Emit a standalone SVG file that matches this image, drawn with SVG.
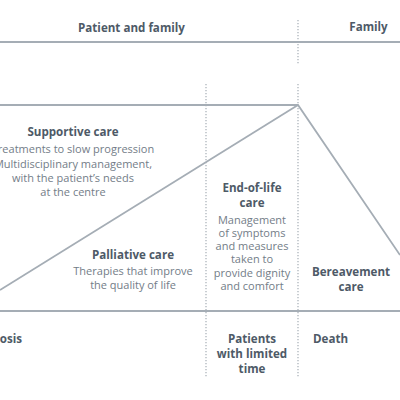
<svg xmlns="http://www.w3.org/2000/svg" width="400" height="400" viewBox="0 0 400 400">
<style>
.b{font-family:"Open Sans","Noto Sans","DejaVu Sans",sans-serif;font-weight:bold;font-size:11.6px;fill:#4e5a67;text-anchor:middle}
.r{font-family:"Open Sans","Noto Sans","DejaVu Sans",sans-serif;font-size:11px;fill:#737d88;text-anchor:middle}
.ln{stroke:#a5adb5;stroke-width:1.8;fill:none}
.dot{stroke:#a5adb5;stroke-width:1.2;stroke-dasharray:1.2 1.8;fill:none}
</style>
<rect width="400" height="400" fill="#ffffff"/>
<g id="connectors">
<line class="ln" x1="0" y1="42" x2="400" y2="42"/>
<line class="ln" x1="0" y1="311" x2="400" y2="311"/>
<polyline class="ln" points="0,105 298,105 400,255"/>
<line class="ln" x1="0" y1="290" x2="298" y2="105"/>
<line class="dot" x1="298" y1="20" x2="298" y2="64"/>
<line class="dot" x1="206" y1="84" x2="206" y2="377"/>
<line class="dot" x1="298" y1="84" x2="298" y2="377"/>
</g>
<g id="header-patient"><text class="b" x="131.5" y="31.5">Patient and family</text></g>
<g id="header-family"><text class="b" x="368.5" y="31">Family</text></g>
<g id="supportive">
<text class="b" x="73" y="136">Supportive care</text>
<text class="r" x="73" y="153">Treatments to slow progression</text>
<text class="r" x="73" y="167.5">Multidisciplinary management,</text>
<text class="r" x="73" y="182">with the patient’s needs</text>
<text class="r" x="73" y="196">at the centre</text>
</g>
<g id="palliative">
<text class="b" x="133" y="259">Palliative care</text>
<text class="r" x="133" y="275">Therapies that improve</text>
<text class="r" x="133" y="289">the quality of life</text>
</g>
<g id="endoflife">
<text class="b" x="252" y="191.5">End-of-life</text>
<text class="b" x="252" y="206.5">care</text>
<text class="r" x="252" y="223.5">Management</text>
<text class="r" x="252" y="236.8">of symptoms</text>
<text class="r" x="252" y="250.1">and measures</text>
<text class="r" x="252" y="263.4">taken to</text>
<text class="r" x="252" y="276.7">provide dignity</text>
<text class="r" x="252" y="290">and comfort</text>
</g>
<g id="bereavement">
<text class="b" x="351" y="276">Bereavement</text>
<text class="b" x="351" y="290.5">care</text>
</g>
<g id="diagnosis"><text class="b" x="22" y="342.5" style="text-anchor:end">Diagnosis</text></g>
<g id="limited">
<text class="b" x="252" y="342.5">Patients</text>
<text class="b" x="252" y="357.5">with limited</text>
<text class="b" x="252" y="372.5">time</text>
</g>
<g id="death"><text class="b" x="313" y="342.5" style="text-anchor:start">Death</text></g>
</svg>
